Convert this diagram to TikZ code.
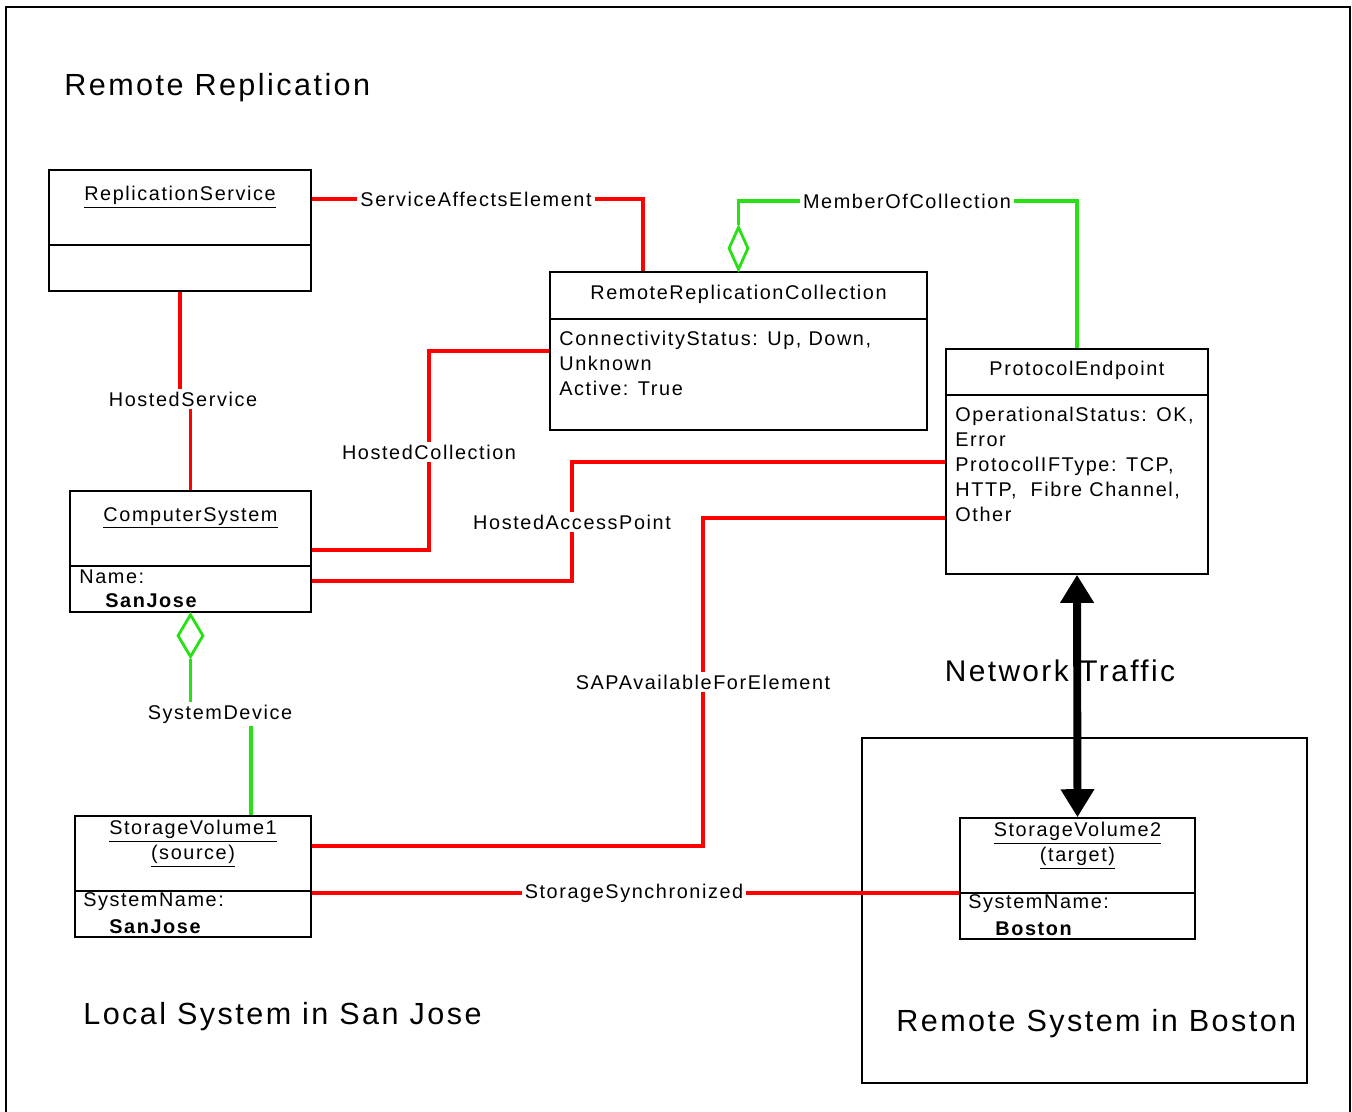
\documentclass[tikz,border=0pt]{standalone}
\usepackage{fontspec}
\setmainfont{Liberation Sans}[LetterSpace=8]
\usetikzlibrary{fit,shapes.geometric,arrows.meta}
\definecolor{assocred}{RGB}{255,0,0}
\definecolor{agggreen}{RGB}{40,225,20}
\begin{document}
\begin{tikzpicture}[x=0.02cm, y=-0.02cm, every node/.style={font=\fontsize{11.3}{14.2}\selectfont},
  umlbox/.style={draw, line width=0.9pt, inner sep=0pt, fit={#1}},
  assoc/.style={assocred, line width=1.9pt},
  memberof/.style={agggreen, line width=1.8pt},
  aggdiamond/.style={diamond, draw=agggreen, line width=1.6pt, inner sep=0pt, minimum width=0.52cm, minimum height=0.86cm},
  rellabel/.style={inner sep=1.5pt},
  attr/.style={align=left, inner sep=0pt, anchor=north west},
  region/.style={font=\fontsize{17.4}{20}\selectfont, anchor=west, inner sep=0pt}]
	\useasboundingbox (0,0) rectangle (1352,1112);
	% Rahmen
	\draw[line width=1.1pt] (6,1130) -- (6,7) -- (1350,7) -- (1350,1130);
	\node[region] (title) at (64,88) {Remote Replication};
	\node[region] (local) at (83,1017) {Local System in San Jose};
	% entfernte Seite
	\node[umlbox={(862,738) (1307,1083)}, line width=0.7pt] (remote) {};
	\node[region] (boston) at (896,1024) {Remote System in Boston};
	% Klassen
	\node[umlbox={(49,170) (311,291)}] (rs) {};
	\draw[line width=0.9pt] (rs.west |- 0,245) -- (rs.east |- 0,245);
	\node (rstitle) at (rs.north |- 0,197) {\underline{ReplicationService}};
	\node[umlbox={(70,491) (311,612)}] (cs) {};
	\draw[line width=0.9pt] (cs.west |- 0,566) -- (cs.east |- 0,566);
	\node (cstitle) at (cs.north |- 0,518) {\underline{ComputerSystem}};
	\node[anchor=west, inner sep=0pt] (csname) at (79,577) {Name:};
	\node[anchor=west, inner sep=0pt] (csvalue) at (105,601) {\textbf{SanJose}};
	\node[umlbox={(550,272) (927,430)}] (rrc) {};
	\draw[line width=0.9pt] (rrc.west |- 0,319) -- (rrc.east |- 0,319);
	\node (rrctitle) at (rrc.north |- 0,294) {RemoteReplicationCollection};
	\node[attr] (rrcattr) at (559,331) {ConnectivityStatus: Up, Down,\\Unknown\\Active: True};
	\node[umlbox={(946,349) (1208,574)}] (pe) {};
	\draw[line width=0.9pt] (pe.west |- 0,395) -- (pe.east |- 0,395);
	\node (petitle) at (pe.north |- 0,370) {ProtocolEndpoint};
	\node[attr] (peattr) at (955,407) {OperationalStatus: OK,\\Error\\ProtocolIFType: TCP,\\HTTP,\ \ Fibre Channel,\\Other};
	\node[umlbox={(75,816) (311,937)}] (sv1) {};
	\draw[line width=0.9pt] (sv1.west |- 0,891) -- (sv1.east |- 0,891);
	\node[align=center, inner sep=0pt] (sv1title) at (sv1.north |- 0,844) {\underline{StorageVolume1}\\\underline{(source)}};
	\node[anchor=west, inner sep=0pt] (sv1name) at (83,902) {SystemName:};
	\node[anchor=west, inner sep=0pt] (sv1value) at (109,927) {\textbf{SanJose}};
	\node[umlbox={(960,818) (1195,939)}] (sv2) {};
	\draw[line width=0.9pt] (sv2.west |- 0,893) -- (sv2.east |- 0,893);
	\node[align=center, inner sep=0pt] (sv2title) at (sv2.north |- 0,846) {\underline{StorageVolume2}\\\underline{(target)}};
	\node[anchor=west, inner sep=0pt] (sv2name) at (968,904) {SystemName:};
	\node[anchor=west, inner sep=0pt] (sv2value) at (995,929) {\textbf{Boston}};
	% Assoziationen
	\node[rellabel] (sae) at (476,199) {ServiceAffectsElement};
	\draw[assoc] (rs.east |- sae) -- (sae.west);
	\draw[assoc] (sae.east) -| (rrc.north -| 643,0);
	\node[rellabel] (hs) at (183,399) {HostedService};
	\draw[assoc] (rs.south) -- (rs.south |- hs.north);
	\draw[assoc] (cs.north |- hs.south) -- (cs.north);
	\node[rellabel] (hc) at (429,452) {HostedCollection};
	\draw[assoc] (cs.east |- 0,550) -| (hc.south);
	\draw[assoc] (hc.north) |- (rrc.west |- 0,351);
	\node[rellabel] (hap) at (572,522) {HostedAccessPoint};
	\draw[assoc] (cs.east |- 0,581) -| (hap.south);
	\draw[assoc] (hap.north) |- (pe.west |- 0,462);
	\node[rellabel] (sap) at (703,682) {SAPAvailableForElement};
	\draw[assoc] (sv1.east |- 0,846) -| (sap.south);
	\draw[assoc] (sap.north) |- (pe.west |- 0,518);
	\node[rellabel] (ss) at (634,893) {StorageSynchronized};
	\draw[assoc] (sv1.east |- ss) -- (ss.west);
	\draw[assoc] (ss.east) -- (sv2.west |- ss);
	% Aggregationen
	\node[aggdiamond, anchor=north] (sdd) at (cs.south) {};
	\node[rellabel] (sd) at (220,714) {SystemDevice};
	\draw[memberof] (sdd.south) -- (sdd.south |- sd.north);
	\draw[memberof] (sd.south -| 251,0) -- (sv1.north -| 251,0);
	\node[aggdiamond, minimum width=0.4cm, anchor=south] (mocd) at (rrc.north) {};
	\node[rellabel] (moc) at (907,201) {MemberOfCollection};
	\draw[memberof] (mocd.north) |- (moc.west);
	\draw[memberof] (moc.east) -| (pe.north);
	% Netzverkehr
	\node[font=\fontsize{17}{20}\selectfont] (nt) at (1060,671) {Network Traffic};
	\draw[line width=4.5pt, {Triangle[length=0.56cm, width=0.64cm]}-{Triangle[length=0.56cm, width=0.64cm]}] (pe.south) -- (sv2.north);
\end{tikzpicture}
\end{document}
